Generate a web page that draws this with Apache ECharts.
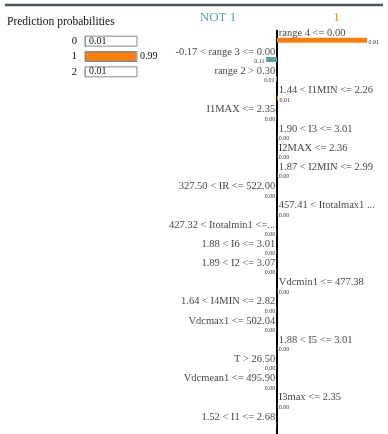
<!DOCTYPE html>
<html>
<head>
<meta charset="utf-8">
<script src="https://cdn.jsdelivr.net/npm/echarts@6/dist/echarts.min.js"></script>
<style>
html,body{margin:0;padding:0;background:#fff;}
#chart{width:388px;height:434px;}
</style>
</head>
<body>
<div id="chart"></div>
<script>
// ---- data ----
const classNames = ['0', '1', '2'];
const classProbs = [0.01, 0.99, 0.01];

const featureNames = [
  'range 4 <= 0.00',
  '-0.17 < range 3 <= 0.00',
  'range 2 > 0.30',
  '1.44 < I1MIN <= 2.26',
  'I1MAX <= 2.35',
  '1.90 < I3 <= 3.01',
  'I2MAX <= 2.36',
  '1.87 < I2MIN <= 2.99',
  '327.50 < IR <= 522.00',
  '457.41 < Itotalmax1 ...',
  '427.32 < Itotalmin1 <=...',
  '1.88 < I6 <= 3.01',
  '1.89 < I2 <= 3.07',
  'Vdcmin1 <= 477.38',
  '1.64 < I4MIN <= 2.82',
  'Vdcmax1 <= 502.04',
  '1.88 < I5 <= 3.01',
  'T > 26.50',
  'Vdcmean1 <= 495.90',
  'I3max <= 2.35',
  '1.52 < I1 <= 2.68'
];
// signed weights: positive = supports "1", negative = supports "NOT 1"
const featureWeights = [
  0.91, -0.11, -0.01, 0.01, -0.003, 0.003, 0.003, 0.003, -0.003, 0.003,
  -0.003, -0.003, -0.003, 0.003, -0.003, -0.003, 0.003, -0.003, -0.003, 0.003, -0.003
];
const negLabel = 'NOT 1';
const posLabel = '1';

// ---- style ----
const ORANGE = '#ff7f0e';
const TEAL = '#5f9ea0';
const SERIF = '"Liberation Serif", "Times New Roman", serif';
const classColors = ['#1f77b4', ORANGE, '#2ca02c'];

const chart = echarts.init(document.getElementById('chart'), null, {renderer: 'canvas'});

const option = {
  animation: false,
  graphic: [
    {type: 'line', shape: {x1: 5, y1: 5, x2: 383, y2: 5}, style: {stroke: '#47555f', lineWidth: 2.5}},
    {type: 'text', x: 7, y: 22, style: {text: 'Prediction probabilities', font: '11.5px ' + SERIF, fill: '#111', textAlign: 'left', textVerticalAlign: 'middle'}},
    {type: 'text', x: 218, y: 18, style: {text: negLabel, font: '13px ' + SERIF, fill: TEAL, textAlign: 'center', textVerticalAlign: 'middle'}},
    {type: 'text', x: 336.5, y: 18, style: {text: posLabel, font: '13px ' + SERIF, fill: ORANGE, textAlign: 'center', textVerticalAlign: 'middle'}}
  ],
  grid: [
    {left: 178, top: 30.75, width: 198, height: 409.5, containLabel: false},
    {left: 85, top: 33.5, width: 52, height: 46, containLabel: false}
  ],
  xAxis: [
    {gridIndex: 0, type: 'value', min: -1, max: 1, show: false},
    {gridIndex: 1, type: 'value', min: 0, max: 1, show: false}
  ],
  yAxis: [
    {
      gridIndex: 0, type: 'category', inverse: true, data: featureNames,
      axisLine: {show: true, onZero: true, lineStyle: {color: '#000', width: 2}},
      axisTick: {show: false}, axisLabel: {show: false}, splitLine: {show: false}
    },
    {
      gridIndex: 1, type: 'category', inverse: true, data: classNames,
      axisLine: {show: false}, axisTick: {show: false}, splitLine: {show: false},
      axisLabel: {margin: 8, fontFamily: SERIF, fontSize: 10.5, color: '#111'}
    }
  ],
  series: [
    {
      type: 'bar', xAxisIndex: 0, yAxisIndex: 0, barWidth: 5,
      data: featureWeights.map((w, i) => ({
        value: w,
        itemStyle: {color: w >= 0 ? ORANGE : TEAL},
        label: {position: w >= 0 ? 'right' : 'left', show: i < featureWeights.length - 1}
      })),
      label: {
        show: true, distance: 1.5, offset: [0, 2],
        fontFamily: SERIF, fontSize: 6, color: '#333',
        formatter: p => Math.abs(p.value).toFixed(2)
      }
    },
    {
      type: 'scatter', xAxisIndex: 0, yAxisIndex: 0, symbolSize: 0,
      data: featureWeights.map((w, i) => ({
        value: [0, i],
        label: {position: w >= 0 ? 'right' : 'left'}
      })),
      label: {
        show: true, distance: 1.8, offset: [0, -7.5],
        fontFamily: SERIF, fontSize: 10.5, color: '#111',
        formatter: p => featureNames[p.dataIndex]
      }
    },
    {
      type: 'bar', xAxisIndex: 1, yAxisIndex: 1, barWidth: 10,
      showBackground: true,
      backgroundStyle: {color: '#fff', borderColor: '#8a8a8a', borderWidth: 1},
      data: classProbs.map((v, i) => ({value: v, itemStyle: {color: classColors[i], borderColor: '#8a8a8a', borderWidth: i === 1 ? 1 : 0}})),
      label: {
        show: true, position: 'right', distance: 3.5,
        fontFamily: SERIF, fontSize: 10, color: '#111',
        formatter: p => p.value.toFixed(2)
      }
    }
  ]
};
chart.setOption(option);
</script>
</body>
</html>
